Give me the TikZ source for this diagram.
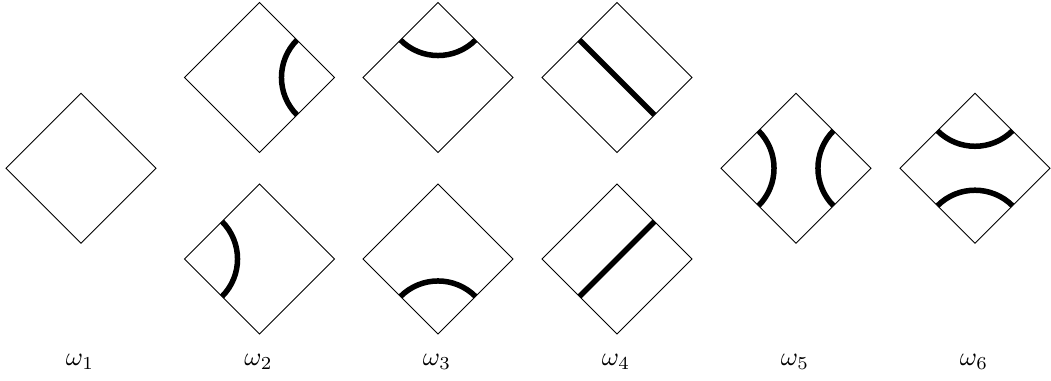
\documentclass[tikz,border=0pt]{standalone}
\begin{document}
\begin{tikzpicture}[x=0.382pt,y=0.382pt,
  frame/.style={draw=black,line width=0.4pt},
  strand/.style={draw=black,line width=2.1pt},
  lbl/.style={inner sep=0pt,anchor=center}]
\useasboundingbox (0,0) rectangle (1051,381);
\newcommand\dmd{\draw[frame] (-75,0) -- (0,75) -- (75,0) -- (0,-75) -- cycle;}
% omega 1
\begin{scope}[shift={(81,212.75)}]\dmd\end{scope}
% omega 2
\begin{scope}[shift={(259.5,303.5)}]\dmd
  \draw[strand] (37.5,37.5) arc[start angle=135,end angle=225,radius=53.03];
\end{scope}
\begin{scope}[shift={(259.5,122)}]\dmd
  \draw[strand] (-37.5,37.5) arc[start angle=45,end angle=-45,radius=53.03];
\end{scope}
% omega 3
\begin{scope}[shift={(438,303.5)}]\dmd
  \draw[strand] (-37.5,37.5) arc[start angle=225,end angle=315,radius=53.03];
\end{scope}
\begin{scope}[shift={(438,122)}]\dmd
  \draw[strand] (-37.5,-37.5) arc[start angle=135,end angle=45,radius=53.03];
\end{scope}
% omega 4
\begin{scope}[shift={(617,303.5)}]\dmd
  \draw[strand] (-37.5,37.5) -- (37.5,-37.5);
\end{scope}
\begin{scope}[shift={(617,122)}]\dmd
  \draw[strand] (-37.5,-37.5) -- (37.5,37.5);
\end{scope}
% omega 5
\begin{scope}[shift={(796,212.75)}]\dmd
  \draw[strand] (-37.5,37.5) arc[start angle=45,end angle=-45,radius=53.03];
  \draw[strand] (37.5,37.5) arc[start angle=135,end angle=225,radius=53.03];
\end{scope}
% omega 6
\begin{scope}[shift={(975,212.75)}]\dmd
  \draw[strand] (-37.5,37.5) arc[start angle=225,end angle=315,radius=53.03];
  \draw[strand] (-37.5,-37.5) arc[start angle=135,end angle=45,radius=53.03];
\end{scope}
% labels
\node[lbl] (l1) at (80,19) {$\omega_1$};
\node[lbl] (l2) at (258.5,19) {$\omega_2$};
\node[lbl] (l3) at (437,19) {$\omega_3$};
\node[lbl] (l4) at (616,19) {$\omega_4$};
\node[lbl] (l5) at (795,19) {$\omega_5$};
\node[lbl] (l6) at (974,19) {$\omega_6$};
\end{tikzpicture}
\end{document}
